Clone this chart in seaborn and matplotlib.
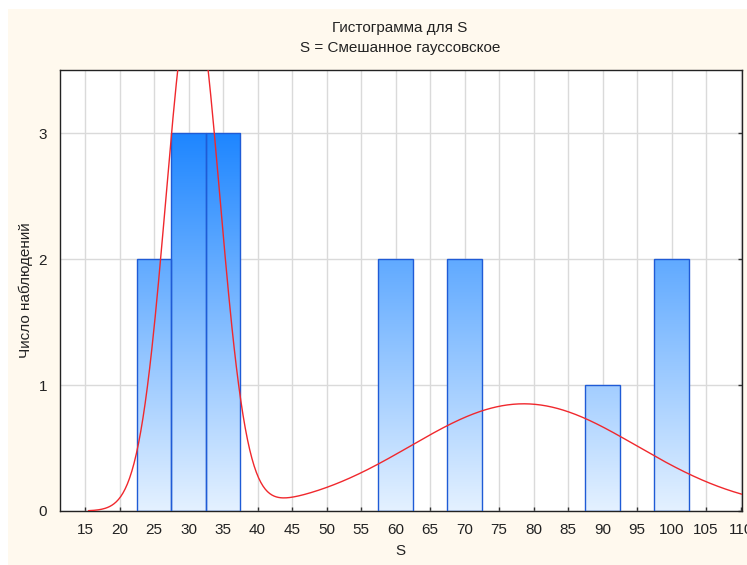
import numpy as np
import pandas as pd
import matplotlib
matplotlib.use("Agg")
import matplotlib.pyplot as plt
from matplotlib.patches import Rectangle
from matplotlib.colors import LinearSegmentedColormap
import seaborn as sns

# Observed values (bin centres) and how many observations fall in each bin
bin_centers = [25, 30, 35, 60, 70, 90, 100]
counts = [2, 3, 3, 2, 2, 1, 2]
bin_width = 5
x_ticks = list(range(15, 115, 5))
y_ticks = [0, 1, 2, 3]
title_lines = ["Гистограмма для S", "S = Смешанное гауссовское"]
x_label = "S"
y_label = "Число наблюдений"
split_point = 50  # boundary between the two mixture components

sns.set_theme(style="white")
plt.rcParams["font.family"] = ["Liberation Sans", "DejaVu Sans"]

obs = np.repeat(bin_centers, counts).astype(float)
df = pd.DataFrame({"S": obs})

fig = plt.figure(figsize=(7.47, 5.65), dpi=100, facecolor="white")
fig.patches.append(Rectangle((8 / 747, 0), 1, 1 - 9 / 565, transform=fig.transFigure,
                             facecolor="#FFF9EE", edgecolor="none", zorder=-10))
ax = fig.add_axes([59.5 / 747, 1 - 511 / 565, (742 - 59.5) / 747, (511 - 70) / 565])
ax.set_facecolor("white")

edges = np.arange(min(bin_centers) - bin_width / 2, max(bin_centers) + bin_width, bin_width)
sns.histplot(data=df, x="S", bins=edges, ax=ax, stat="count",
             edgecolor="#1F5BD6", linewidth=1.0, facecolor="none", zorder=3)

cmap = LinearSegmentedColormap.from_list("bars", ["#E4F1FF", "#1E86FF"])
grad = np.linspace(0, 1, 256).reshape(-1, 1)
for p in list(ax.patches):
    h = p.get_height()
    if h <= 0:
        p.remove()
        continue
    x0 = p.get_x()
    w = p.get_width()
    im = ax.imshow(grad, cmap=cmap, aspect="auto", origin="lower",
                   extent=(x0, x0 + w, 0, 3), vmin=0, vmax=1, zorder=2,
                   interpolation="bilinear")
    im.set_clip_path(p)

# Two-component Gaussian mixture fitted to the observations, scaled to counts
xs = np.linspace(15.5, 112, 600)
total = np.zeros_like(xs)
for part in (obs[obs < split_point], obs[obs >= split_point]):
    mu = part.mean()
    sd = part.std()
    total += len(part) * bin_width * np.exp(-0.5 * ((xs - mu) / sd) ** 2) / (sd * np.sqrt(2 * np.pi))
sns.lineplot(x=xs, y=total, ax=ax, color="#F0282D", linewidth=1.0, zorder=4)

ax.set_xlim(11.3, 110.2)
ax.set_ylim(0, 3.5)
ax.set_xticks(x_ticks)
ax.set_xticklabels([str(t) for t in x_ticks])
ax.set_yticks(y_ticks)
ax.grid(True, color="#DADADA", linewidth=1.0, zorder=0)
ax.set_axisbelow(True)
for s in ax.spines.values():
    s.set_visible(True)
    s.set_color("#222222")
    s.set_linewidth(1.0)
ax.tick_params(axis="both", which="major", direction="in", length=3, width=1,
               color="#333333", labelsize=11, labelcolor="#222222", pad=6)
ax.tick_params(axis="y", right=True, left=False, pad=9)
ax.tick_params(axis="x", bottom=True, pad=9)

ax.set_xlabel(x_label, fontsize=11, color="#222222", labelpad=5)
ax.set_ylabel(y_label, fontsize=11, color="#222222", labelpad=4)

fig.text(400 / 747, 1 - 28 / 565, title_lines[0], ha="center", va="center",
         fontsize=11, color="#222222")
fig.text(400 / 747, 1 - 48 / 565, title_lines[1], ha="center", va="center",
         fontsize=11, color="#222222")

fig.savefig("out.png", dpi=100, facecolor=fig.get_facecolor())
